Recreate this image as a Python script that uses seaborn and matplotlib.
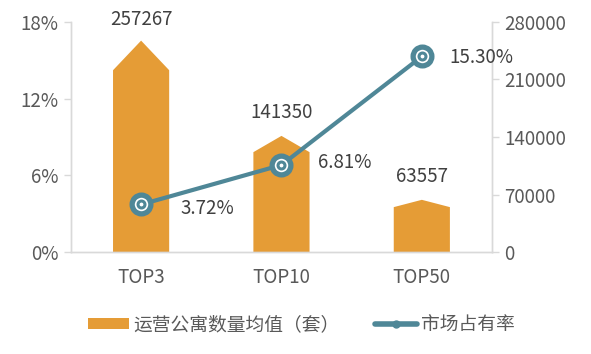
import matplotlib
matplotlib.use('Agg')
import matplotlib.pyplot as plt
from matplotlib.patches import Polygon, Patch
from matplotlib.lines import Line2D
from matplotlib.ticker import FuncFormatter
import seaborn as sns
import pandas as pd

categories = ['TOP3', 'TOP10', 'TOP50']
apartments = [257267, 141350, 63557]
share = [3.72, 6.81, 15.30]

bar_color = '#e59c36'
line_color = '#4f8797'
text_color = '#404040'
tick_color = '#595959'
grid_color = '#d9d9d9'
fs = 13.5

sns.set_theme(style='white')
plt.rcParams['font.family'] = ['Noto Sans CJK SC', 'DejaVu Sans']

df = pd.DataFrame({'cat': categories, 'apt': apartments, 'share': share})

fig = plt.figure(figsize=(5.91, 3.54), dpi=100)
ax = fig.add_axes([0.120, 0.288, 0.7125, 0.650])

# bars (apartment counts) on the right-hand scale, drawn as little "houses"
sns.barplot(data=df, x='cat', y='apt', color=bar_color, width=0.4,
            saturation=1, ax=ax)
label_lift = [11, 13, 13]
for p, lift in zip(list(ax.patches), label_lift):
    x0, w, h = p.get_x(), p.get_width(), p.get_height()
    p.remove()
    roof = 0.86 * h
    ax.add_patch(Polygon([(x0, 0), (x0, roof), (x0 + w / 2, h),
                          (x0 + w, roof), (x0 + w, 0)],
                         closed=True, facecolor=bar_color, edgecolor='none'))
    ax.annotate(f'{int(round(h))}', (x0 + w / 2, h), xytext=(0, lift + 4),
                textcoords='offset points', ha='center', va='center',
                fontsize=fs, color=text_color)
ax.set_ylim(0, 280000)
ax.set_yticks([0, 70000, 140000, 210000, 280000])
ax.set_xlim(-0.5, 2.5)
ax.set_xlabel('')
ax.set_ylabel('')

# line (market share) on the left-hand scale
ax2 = ax.twinx()
sns.lineplot(data=df, x='cat', y='share', color=line_color, linewidth=3,
             marker='o', markersize=13.5, markerfacecolor='white',
             markeredgecolor=line_color, markeredgewidth=3.8, ax=ax2)
ax2.plot(categories, share, linestyle='none', marker='o', markersize=5,
         markerfacecolor='white', markeredgecolor=line_color,
         markeredgewidth=2.2)
offsets = [(28, -3), (26, 2), (20, -1)]
for c, s, off in zip(categories, share, offsets):
    ax2.annotate(f'{s:.2f}%', (c, s), xytext=off, textcoords='offset points',
                 ha='left', va='center', fontsize=fs, color=text_color)
ax2.set_ylim(0, 18)
ax2.set_yticks([0, 6, 12, 18])
ax2.yaxis.set_major_formatter(FuncFormatter(lambda v, _: f'{v:.0f}%'))
ax2.set_ylabel('')
ax2.set_xlabel('')

# swap sides: percentages left, counts right
ax2.yaxis.tick_left()
ax.yaxis.tick_right()

for a in (ax, ax2):
    a.spines['top'].set_visible(False)
    for side in ('left', 'right', 'bottom'):
        a.spines[side].set_color(grid_color)
        a.spines[side].set_linewidth(1)
    a.tick_params(axis='y', colors=grid_color, labelcolor=tick_color,
                  labelsize=fs, length=5, width=1, pad=4)
    a.tick_params(axis='x', colors=tick_color, labelsize=fs, length=0, pad=11)

handles = [Patch(facecolor=bar_color, edgecolor='none'),
           Line2D([0], [0], color=line_color, linewidth=4, marker='o',
                  markersize=5, markerfacecolor=line_color)]
fig.legend(handles, ['运营公寓数量均值（套）', '市场占有率'], loc='center',
           bbox_to_anchor=(0.51, 0.082), ncol=2, frameon=False, fontsize=fs,
           labelcolor=tick_color, handlelength=2.2, handleheight=0.5,
           columnspacing=1.9, handletextpad=0.25)

fig.savefig('out.png', dpi=100)
